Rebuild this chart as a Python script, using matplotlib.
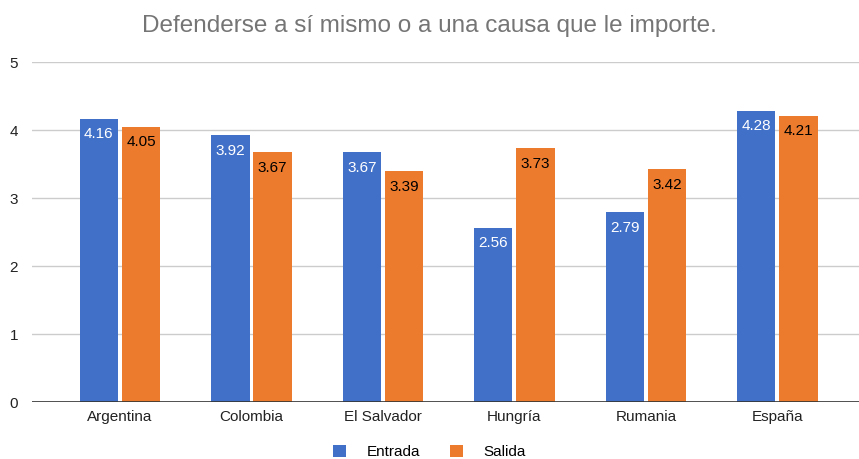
import numpy as np
import matplotlib.pyplot as plt

plt.rcParams['font.family'] = ['Liberation Sans', 'DejaVu Sans']

# valores por país
paises = ["Argentina", "Colombia", "El Salvador", "Hungría", "Rumania", "España"]
entrada = [4.16, 3.92, 3.67, 2.56, 2.79, 4.28]
salida = [4.05, 3.67, 3.39, 3.73, 3.42, 4.21]
series = ["Entrada", "Salida"]

azul = "#4170c8"
naranja = "#ec7b2e"

fig = plt.figure(figsize=(8.59, 4.59), dpi=100)
ax = fig.add_axes([32 / 859, 57 / 459, 827 / 859, 340 / 459])

x = np.arange(len(paises))
ancho = 0.29
desp = 0.16

b1 = ax.bar(x - desp, entrada, ancho, color=azul, label=series[0], zorder=3)
b2 = ax.bar(x + desp, salida, ancho, color=naranja, label=series[1], zorder=3)

# etiquetas dentro de cada barra, arriba
for barras, col in ((b1, "white"), (b2, "black")):
    for r in barras:
        v = r.get_height()
        ax.annotate(f"{v:.2f}", (r.get_x() + r.get_width() / 2, v),
                    xytext=(0, -6), textcoords="offset points",
                    ha="center", va="top", fontsize=11, color=col, zorder=4)

ax.set_xlim(-0.669, 5.62)
ax.set_ylim(0, 5)
ax.set_yticks([0, 1, 2, 3, 4, 5])
ax.set_xticks(x)
ax.set_xticklabels(paises, fontsize=11, color="#222222")
ax.tick_params(axis="y", labelsize=11, colors="#222222", length=0, pad=10)
ax.tick_params(axis="x", length=0, pad=6)
ax.grid(axis="y", color="#cccccc", linewidth=1, zorder=0)
ax.axhline(0, color="#333333", linewidth=1.2, zorder=4)
for s in ax.spines.values():
    s.set_visible(False)

fig.suptitle("Defenderse a sí mismo o a una causa que le importe.",
             x=0.5, y=0.968, fontsize=17.5, color="#757575")

leg = fig.legend(handles=[b1, b2], labels=series, loc="lower center",
                 bbox_to_anchor=(0.5, -0.03), ncol=2, frameon=False,
                 fontsize=11, handlelength=0.85, handleheight=0.85,
                 columnspacing=2.0, handletextpad=1.3)

fig.savefig("out.png", dpi=100)
